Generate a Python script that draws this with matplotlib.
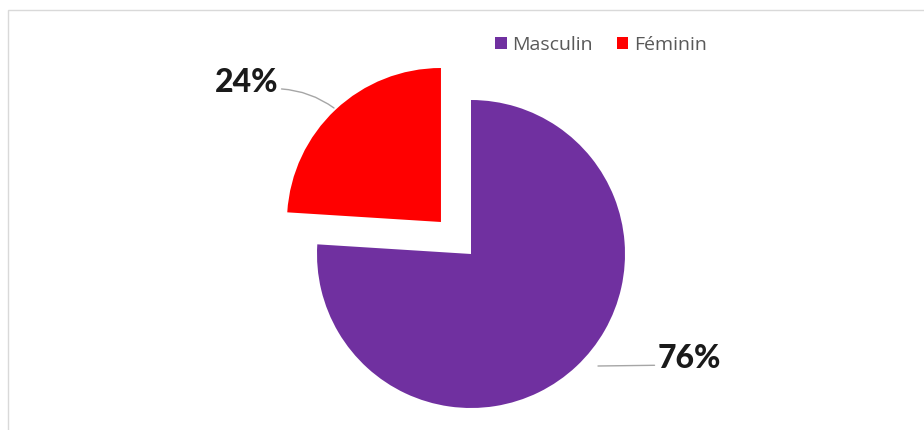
import matplotlib.pyplot as plt
from matplotlib.patches import Rectangle

labels = ["Masculin", "Féminin"]
values = [76, 24]
colors = ["#7030A0", "#FF0000"]
explode = [0, 0.285]

W, H = 924, 430
R = 154
fig = plt.figure(figsize=(W / 100, H / 100), dpi=100)
ax = fig.add_axes([0, 0, 1, 1])

# cadre gris clair
ax.add_patch(Rectangle((8, -5), W, H - 10 + 5, fill=False, ec="#d9d9d9", lw=1))

# explode de matplotlib est en unités de données, pas en fraction du rayon
wedges, _ = ax.pie(values, colors=colors, explode=[e * R for e in explode],
                   startangle=90, counterclock=False, center=(471, 176),
                   radius=R, frame=True)
ax.set_xlim(0, W)
ax.set_ylim(0, H)
ax.set_aspect("equal")
ax.axis("off")

pct = [f"{v}%" for v in values]
ax.annotate(pct[1], xy=(334, 322), xytext=(247, 347), ha="center", va="center",
            fontsize=23, fontweight="black", family="Lato", color="#1a1a1a",
            arrowprops=dict(arrowstyle="-", color="#a6a6a6", lw=1,
                            shrinkA=0, shrinkB=0, relpos=(1.0, 0.3),
                            connectionstyle="arc3,rad=-0.15"))
ax.annotate(pct[0], xy=(598, 64), xytext=(689, 72), ha="center", va="center",
            fontsize=23, fontweight="black", family="Lato", color="#1a1a1a",
            arrowprops=dict(arrowstyle="-", color="#a6a6a6", lw=1,
                            shrinkA=0, shrinkB=0, relpos=(0.0, 0.25)))

leg = ax.legend(wedges, labels, loc="center", bbox_to_anchor=(601 / W, 1 - 45 / H),
                ncol=2, frameon=False, handlelength=0.6, handleheight=0.6,
                handletextpad=0.3, columnspacing=1.2,
                prop=dict(family="Open Sans", size=14))
for t in leg.get_texts():
    t.set_color("#595959")

fig.savefig("out.png", dpi=100)
